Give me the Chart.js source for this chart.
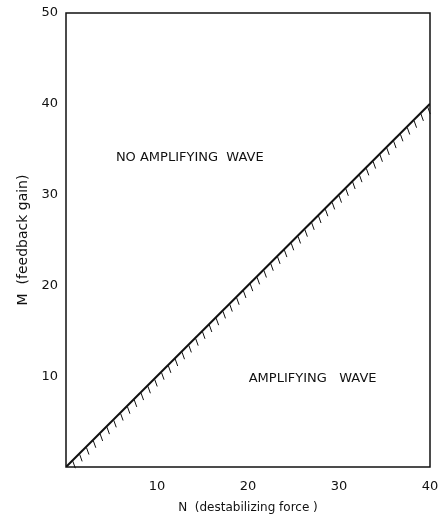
<!DOCTYPE html>
<html>
<head>
<meta charset="utf-8">
<script src="https://cdn.jsdelivr.net/npm/chart.js@4"></script>
<style>
  html, body { margin: 0; padding: 0; background: #fff; }
  #wrap { width: 439px; height: 522px; }
</style>
</head>
<body>
<div id="wrap"><canvas id="chart" width="439" height="522"></canvas></div>
<script>
// Boundary line between amplifying / non-amplifying regions
const nValues = [0, 40];
const mValues = [0, 40];
const xTicks = [10, 20, 30, 40];
const yTicks = [10, 20, 30, 40, 50];
const regionLabels = ['NO AMPLIFYING  WAVE', 'AMPLIFYING   WAVE'];
const hatchStep = 0.75; // spacing of hatch marks, in N units

const INK = '#111';
const FONT = 'DejaVu Sans';

// box round the plot area
const framePlugin = {
    id: 'frame',
    afterDraw(chart) {
        const { ctx, chartArea: a } = chart;
        ctx.save();
        ctx.strokeStyle = INK;
        ctx.lineWidth = 1.5;
        ctx.strokeRect(a.left, a.top, a.right - a.left, a.bottom - a.top);
        ctx.restore();
    }
};

// short hatch marks under the boundary line
const hatchPlugin = {
    id: 'hatch',
    afterDatasetsDraw(chart) {
        const { ctx, scales: { x, y } } = chart;
        const slope = (mValues[1] - mValues[0]) / (nValues[1] - nValues[0]);
        ctx.save();
        ctx.strokeStyle = INK;
        ctx.lineWidth = 1;
        for (let n = nValues[0] + hatchStep; n < nValues[1]; n += hatchStep) {
            const px = x.getPixelForValue(n);
            const py = y.getPixelForValue(mValues[0] + slope * (n - nValues[0]));
            ctx.beginPath();
            ctx.moveTo(px, py + 1);
            ctx.lineTo(px + 2.5, py + 8);
            ctx.stroke();
        }
        ctx.restore();
    }
};

// region captions
const labelPlugin = {
    id: 'regionText',
    afterDraw(chart) {
        const { ctx, scales: { x, y } } = chart;
        const spots = [[13.6, 34.1], [27.1, 9.7]];
        ctx.save();
        ctx.fillStyle = INK;
        ctx.font = '13px "' + FONT + '"';
        ctx.textAlign = 'center';
        ctx.textBaseline = 'middle';
        regionLabels.forEach((txt, i) => {
            ctx.fillText(txt, x.getPixelForValue(spots[i][0]), y.getPixelForValue(spots[i][1]));
        });
        ctx.restore();
    }
};

new Chart(document.getElementById('chart'), {
    type: 'line',
    data: {
        labels: nValues,
        datasets: [{
            data: nValues.map((n, i) => ({ x: n, y: mValues[i] })),
            borderColor: INK,
            borderWidth: 2,
            pointRadius: 0,
            tension: 0
        }]
    },
    options: {
        responsive: false,
        animation: false,
        layout: { padding: { top: 13, right: 0, left: 0, bottom: 0 } },
        plugins: { legend: { display: false }, tooltip: { enabled: false } },
        scales: {
            x: {
                type: 'linear',
                min: 0, max: 40,
                grid: { display: false },
                border: { display: false },
                afterBuildTicks: s => { s.ticks = xTicks.map(v => ({ value: v })); },
                afterFit: s => { s.height = 55; s.paddingRight = 9; },
                ticks: { color: INK, font: { family: FONT, size: 13 }, padding: 4, maxRotation: 0 },
                title: {
                    display: true,
                    text: 'N  (destabilizing force )',
                    color: INK,
                    font: { family: FONT, size: 12 },
                    padding: { top: 7, bottom: 7 }
                }
            },
            y: {
                type: 'linear',
                min: 0, max: 50,
                grid: { display: false },
                border: { display: false },
                afterBuildTicks: s => { s.ticks = yTicks.map(v => ({ value: v })); },
                afterFit: s => { s.width = 66; },
                ticks: { color: INK, font: { family: FONT, size: 13 }, padding: 0 },
                title: {
                    display: true,
                    text: 'M  (feedback gain)',
                    color: INK,
                    font: { family: FONT, size: 14 },
                    padding: { top: 15, bottom: 0 }
                }
            }
        }
    },
    plugins: [framePlugin, hatchPlugin, labelPlugin]
});
</script>
</body>
</html>
